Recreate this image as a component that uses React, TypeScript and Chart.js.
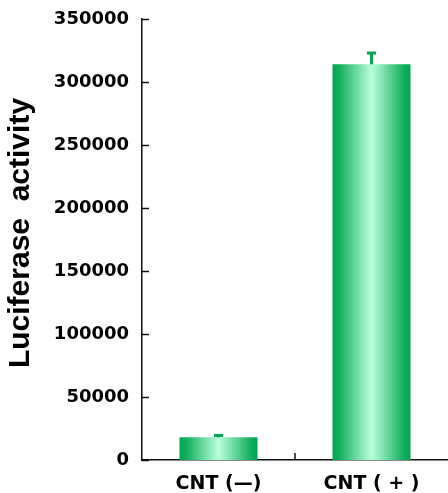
import React, { useEffect, useRef } from "react";
import { Chart, registerables } from "chart.js";

Chart.register(...registerables);

const categories = ["CNT (—)", "CNT ( + )"];
const luciferase = [18000, 314000];
const errors = [1500, 9000];
const yTicks = [0, 50000, 100000, 150000, 200000, 250000, 300000, 350000];
const yTitle = "Luciferase  activity";

const FONT = '"Liberation Sans", Arial, Helvetica, sans-serif';
const TICKFONT = '"DejaVu Sans", "Liberation Sans", Arial, sans-serif';
const GREEN = "#00a651";
const BAR_PCT = 0.51;

function barGradient(c: any) {
  const chart = c.chart;
  const x = chart.scales && chart.scales.x;
  if (!chart.chartArea || !x) return GREEN;
  const cx = x.getPixelForValue(c.dataIndex);
  const half = ((x.width / categories.length) * BAR_PCT) / 2;
  const g = chart.ctx.createLinearGradient(cx - half, 0, cx + half, 0);
  g.addColorStop(0, "#00a651");
  g.addColorStop(0.08, "#10ad5c");
  g.addColorStop(0.5, "#b9ffdc");
  g.addColorStop(0.92, "#10ad5c");
  g.addColorStop(1, "#00a651");
  return g;
}

export default function App() {
  const ref = useRef<HTMLCanvasElement | null>(null);

  useEffect(() => {
    if (!ref.current) return;

    const decor = {
      id: "decor",
      afterDatasetsDraw(chart: any) {
        const ctx = chart.ctx;
        const y = chart.scales.y;
        const meta = chart.getDatasetMeta(0);
        ctx.save();
        ctx.strokeStyle = GREEN;
        ctx.lineWidth = 3;
        meta.data.forEach((bar: any, i: number) => {
          const top = y.getPixelForValue(luciferase[i]);
          const e = y.getPixelForValue(luciferase[i] + errors[i]);
          ctx.beginPath();
          ctx.moveTo(bar.x, top);
          ctx.lineTo(bar.x, e);
          ctx.stroke();
          ctx.beginPath();
          ctx.moveTo(bar.x - 4.5, e);
          ctx.lineTo(bar.x + 4.5, e);
          ctx.stroke();
        });
        ctx.restore();
      },
      afterDraw(chart: any) {
        const ctx = chart.ctx;
        const area = chart.chartArea;
        const y = chart.scales.y;
        const x = chart.scales.x;
        ctx.save();
        ctx.strokeStyle = "#111";
        ctx.lineWidth = 1.5;
        yTicks.forEach((v) => {
          const py = Math.round(y.getPixelForValue(v)) + 0.5;
          ctx.beginPath();
          ctx.moveTo(area.left, py);
          ctx.lineTo(area.left + 7, py);
          ctx.stroke();
        });
        for (let i = 1; i < categories.length; i++) {
          const px = (x.getPixelForValue(i - 1) + x.getPixelForValue(i)) / 2;
          ctx.beginPath();
          ctx.moveTo(px, area.bottom);
          ctx.lineTo(px, area.bottom - 7);
          ctx.stroke();
        }
        ctx.fillStyle = "#000";
        ctx.font = `bold 30px ${FONT}`;
        ctx.textAlign = "center";
        ctx.textBaseline = "middle";
        ctx.translate(21, 233);
        ctx.rotate(-Math.PI / 2);
        ctx.fillText(yTitle, 0, 0);
        ctx.restore();
      },
    };

    const chart = new Chart(ref.current, {
      type: "bar",
      data: {
        labels: categories,
        datasets: [
          {
            data: luciferase,
            backgroundColor: barGradient,
            borderWidth: 0,
            barPercentage: BAR_PCT,
            categoryPercentage: 1,
          },
        ],
      },
      options: {
        animation: false,
        responsive: false,
        devicePixelRatio: 1,
        layout: { padding: { top: 19, right: 0, left: 0, bottom: 0 } },
        plugins: {
          legend: { display: false },
          tooltip: { enabled: false },
          title: { display: false },
        },
        scales: {
          x: {
            grid: { display: false, drawTicks: false },
            border: { display: true, color: "#111", width: 1.5 },
            ticks: {
              color: "#000",
              padding: 13,
              font: { family: TICKFONT, size: 19, weight: "bold" },
            },
            afterFit: (s: any) => {
              s.height = 33;
            },
          },
          y: {
            min: 0,
            max: 350000,
            grid: { display: false, drawTicks: false },
            border: { display: true, color: "#111", width: 1.5 },
            ticks: {
              stepSize: 50000,
              color: "#000",
              padding: 13,
              font: { family: TICKFONT, size: 18, weight: "bold" },
              callback: (v: any) => String(v),
            },
            afterFit: (s: any) => {
              s.width = 142;
              s.paddingTop = 0;
              s.paddingBottom = 0;
            },
          },
        },
      },
      plugins: [decor],
    });

    return () => chart.destroy();
  }, []);

  return (
    <div style={{ position: "absolute", left: 0, top: 0, width: 448, height: 493, background: "#fff" }}>
      <canvas ref={ref} width={448} height={493} style={{ width: 448, height: 493, display: "block" }} />
    </div>
  );
}
